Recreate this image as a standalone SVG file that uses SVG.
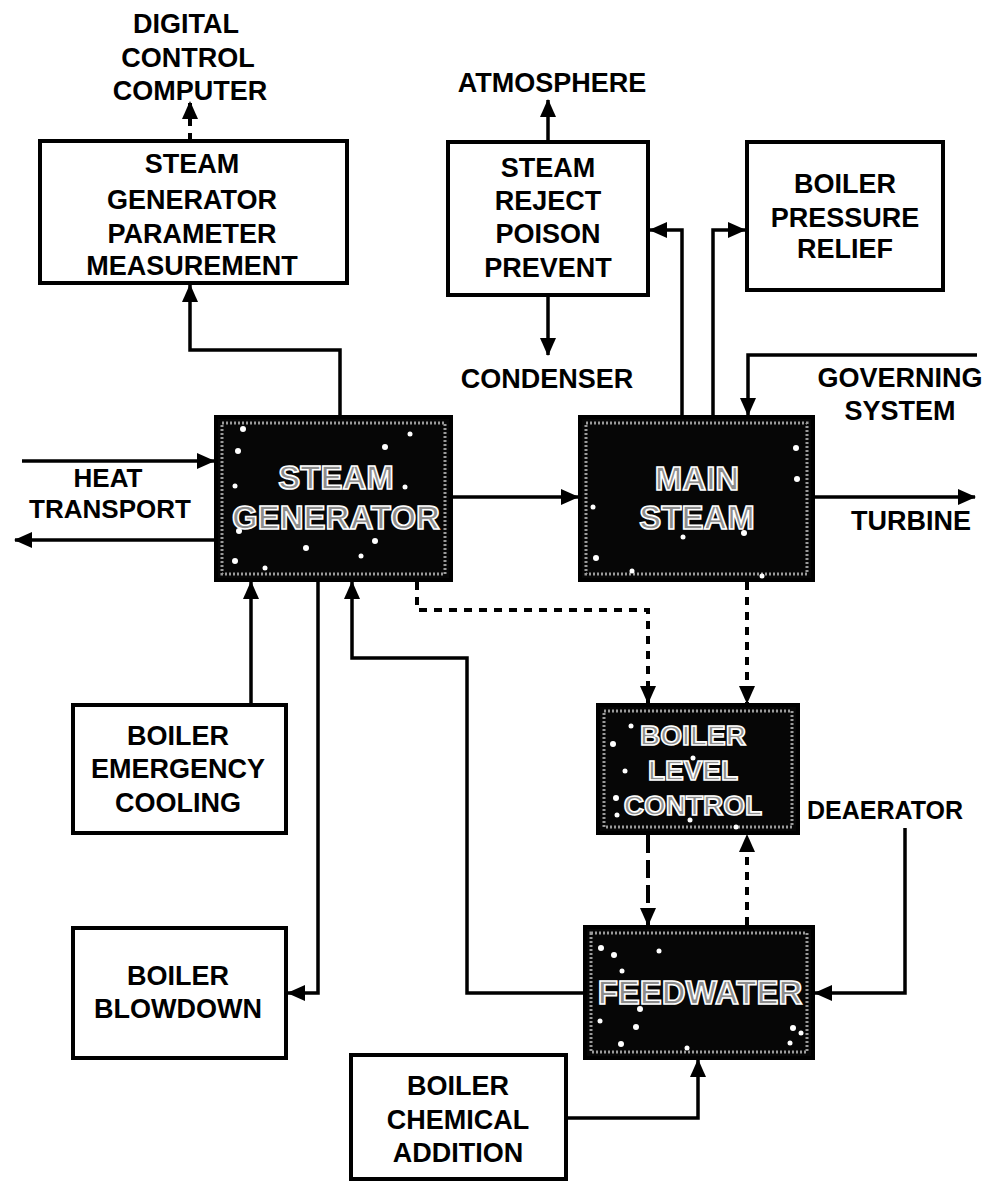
<svg xmlns="http://www.w3.org/2000/svg" width="1000" height="1182" viewBox="0 0 1000 1182">
<defs>
<marker id="ah" markerUnits="userSpaceOnUse" markerWidth="18" markerHeight="16" viewBox="0 0 18 16" refX="17" refY="8" orient="auto">
<path d="M0,0 L18,8 L0,16 z" fill="#000"/>
</marker>
</defs>
<style>
.bg{fill:#fff}
.wbox{fill:#fff;stroke:#000;stroke-width:4}
.dbox{fill:#060606;stroke:#000;stroke-width:4}
.dinner{fill:none;stroke:#9a9a9a;stroke-width:3;stroke-dasharray:2 2}
.t{font-family:"Liberation Sans",Arial,sans-serif;font-weight:bold;font-size:27px;fill:#000;text-anchor:middle}
.dt{font-family:"Liberation Sans",Arial,sans-serif;font-weight:bold;font-size:33px;fill:#8c8c8c;stroke:#fff;stroke-width:1.6;text-anchor:middle}
.c{fill:none;stroke:#000;stroke-width:3.5}
.dot{fill:none;stroke:#000;stroke-width:4;stroke-dasharray:8 7}
.dash{fill:none;stroke:#000;stroke-width:4;stroke-dasharray:18 7}
.star{fill:#fff}
</style>
<rect class="bg" x="0" y="0" width="1000" height="1182"/>

<g id="connectors">
<path class="dot" d="M190 141 V102" stroke-dasharray="4 10" marker-end="url(#ah)"/>
<path class="c" d="M340 417 V350 H190 V285" marker-end="url(#ah)"/>
<path class="c" d="M548 142 V100" marker-end="url(#ah)"/>
<path class="c" d="M548 295 V355" marker-end="url(#ah)"/>
<path class="c" d="M682 417 V230 H650" marker-end="url(#ah)"/>
<path class="c" d="M713 417 V230 H745" marker-end="url(#ah)"/>
<path class="c" d="M977 355 H748 V415" marker-end="url(#ah)"/>
<path class="c" d="M451 497 H578" marker-end="url(#ah)"/>
<path class="c" d="M813 497 H975" marker-end="url(#ah)"/>
<path class="c" d="M22 461 H214" marker-end="url(#ah)"/>
<path class="c" d="M216 540 H15" marker-end="url(#ah)"/>
<path class="c" d="M251 705 V582" marker-end="url(#ah)"/>
<path class="c" d="M318 580 V993 H288" marker-end="url(#ah)"/>
<path class="c" d="M585 993 H467 V658 H352 V582" marker-end="url(#ah)"/>
<path class="dot" d="M417 582 V610 H648 V703" marker-end="url(#ah)"/>
<path class="dot" d="M747 582 V703" marker-end="url(#ah)"/>
<path class="dash" d="M648 835 V925" marker-end="url(#ah)"/>
<path class="dot" d="M747 925 V835" marker-end="url(#ah)"/>
<path class="c" d="M905 828 V993 H815" marker-end="url(#ah)"/>
<path class="c" d="M566 1118 H698 V1060" marker-end="url(#ah)"/>
</g>

<g id="dcc">
<text class="t" x="186" y="33">DIGITAL</text>
<text class="t" x="188" y="67">CONTROL</text>
<text class="t" x="190" y="100">COMPUTER</text>
</g>

<g id="sgpm">
<rect class="wbox" x="40" y="141" width="307" height="142"/>
<text class="t" x="192" y="173">STEAM</text>
<text class="t" x="192" y="209">GENERATOR</text>
<text class="t" x="192" y="243">PARAMETER</text>
<text class="t" x="192" y="275">MEASUREMENT</text>
</g>

<g id="atmosphere"><text class="t" x="552" y="92">ATMOSPHERE</text></g>

<g id="srpp">
<rect class="wbox" x="448" y="142" width="200" height="153"/>
<text class="t" x="548" y="177">STEAM</text>
<text class="t" x="548" y="210">REJECT</text>
<text class="t" x="548" y="243">POISON</text>
<text class="t" x="548" y="277">PREVENT</text>
</g>

<g id="condenser"><text class="t" x="547" y="388">CONDENSER</text></g>

<g id="bpr">
<rect class="wbox" x="747" y="142" width="196" height="148"/>
<text class="t" x="845" y="193">BOILER</text>
<text class="t" x="845" y="227">PRESSURE</text>
<text class="t" x="845" y="258">RELIEF</text>
</g>

<g id="governing">
<text class="t" x="900" y="387">GOVERNING</text>
<text class="t" x="900" y="420">SYSTEM</text>
</g>

<g id="heat">
<text class="t" x="108" y="487" style="font-size:26px">HEAT</text>
<text class="t" x="110" y="518" style="font-size:26px">TRANSPORT</text>
</g>

<g id="turbine"><text class="t" x="911" y="530">TURBINE</text></g>

<g id="sg">
<rect class="dbox" x="216" y="417" width="235" height="163"/>
<rect class="dinner" x="222" y="423" width="223" height="151"/>
<circle class="star" cx="243" cy="429" r="3"/><circle class="star" cx="238" cy="451" r="3"/>
<circle class="star" cx="385" cy="447" r="3"/><circle class="star" cx="410" cy="434" r="2.5"/>
<circle class="star" cx="235" cy="486" r="2.5"/><circle class="star" cx="239" cy="531" r="3"/>
<circle class="star" cx="306" cy="548" r="3"/><circle class="star" cx="375" cy="541" r="3"/>
<circle class="star" cx="361" cy="556" r="2.5"/><circle class="star" cx="235" cy="561" r="3"/>
<circle class="star" cx="265" cy="568" r="2.5"/><circle class="star" cx="405" cy="487" r="2.5"/>
<text class="dt" x="336" y="489">STEAM</text>
<text class="dt" x="336" y="529">GENERATOR</text>
</g>

<g id="ms">
<rect class="dbox" x="580" y="417" width="233" height="163"/>
<rect class="dinner" x="586" y="423" width="221" height="151"/>
<circle class="star" cx="796" cy="448" r="3"/><circle class="star" cx="797" cy="479" r="3"/>
<circle class="star" cx="593" cy="507" r="2.5"/><circle class="star" cx="744" cy="533" r="3"/>
<circle class="star" cx="683" cy="537" r="2.5"/><circle class="star" cx="596" cy="558" r="3"/>
<circle class="star" cx="632" cy="571" r="2.5"/><circle class="star" cx="762" cy="576" r="2.5"/>
<text class="dt" x="697" y="490">MAIN</text>
<text class="dt" x="697" y="529">STEAM</text>
</g>

<g id="bec">
<rect class="wbox" x="73" y="705" width="213" height="128"/>
<text class="t" x="178" y="745">BOILER</text>
<text class="t" x="178" y="778">EMERGENCY</text>
<text class="t" x="178" y="812">COOLING</text>
</g>

<g id="blc">
<rect class="dbox" x="598" y="705" width="200" height="128"/>
<rect class="dinner" x="604" y="711" width="188" height="116"/>
<circle class="star" cx="631" cy="726" r="2.5"/><circle class="star" cx="613" cy="744" r="3"/>
<circle class="star" cx="625" cy="771" r="2.5"/><circle class="star" cx="616" cy="798" r="3"/>
<circle class="star" cx="617" cy="815" r="2.5"/><circle class="star" cx="690" cy="820" r="2.5"/>
<circle class="star" cx="736" cy="827" r="2.5"/><circle class="star" cx="693" cy="758" r="2.5"/>
<text class="dt" x="693" y="745" style="font-size:28px">BOILER</text>
<text class="dt" x="693" y="780" style="font-size:28px">LEVEL</text>
<text class="dt" x="693" y="815" style="font-size:28px">CONTROL</text>
</g>

<g id="deaerator"><text class="t" x="885" y="819" style="font-size:25px">DEAERATOR</text></g>

<g id="bb">
<rect class="wbox" x="73" y="928" width="213" height="130"/>
<text class="t" x="178" y="985">BOILER</text>
<text class="t" x="178" y="1018">BLOWDOWN</text>
</g>

<g id="fw">
<rect class="dbox" x="585" y="927" width="228" height="131"/>
<rect class="dinner" x="591" y="933" width="216" height="119"/>
<circle class="star" cx="601" cy="948" r="3"/><circle class="star" cx="614" cy="955" r="3"/>
<circle class="star" cx="659" cy="951" r="2.5"/><circle class="star" cx="622" cy="971" r="2.5"/>
<circle class="star" cx="640" cy="1009" r="3"/><circle class="star" cx="600" cy="1021" r="2.5"/>
<circle class="star" cx="636" cy="1027" r="3"/><circle class="star" cx="621" cy="1044" r="3"/>
<circle class="star" cx="793" cy="1028" r="3"/><circle class="star" cx="801" cy="1033" r="2.5"/>
<circle class="star" cx="790" cy="1043" r="2.5"/><circle class="star" cx="687" cy="1048" r="2.5"/>
<text class="dt" x="700" y="1004">FEEDWATER</text>
</g>

<g id="bca">
<rect class="wbox" x="351" y="1055" width="215" height="124"/>
<text class="t" x="458" y="1095">BOILER</text>
<text class="t" x="458" y="1129">CHEMICAL</text>
<text class="t" x="458" y="1162">ADDITION</text>
</g>
</svg>
